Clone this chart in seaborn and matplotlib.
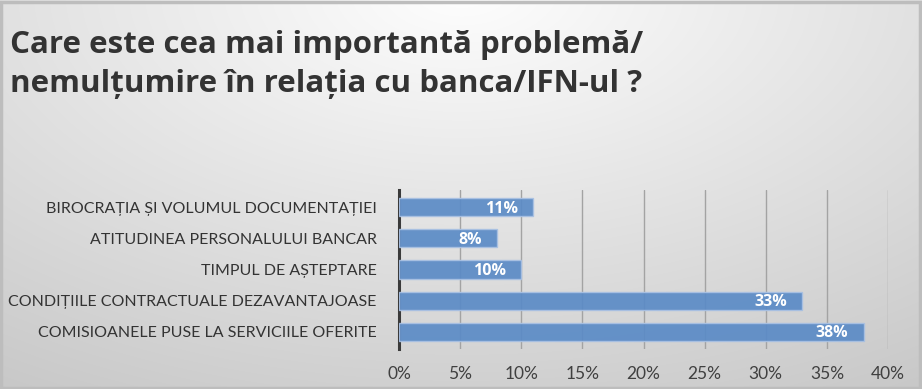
import numpy as np
import matplotlib
matplotlib.use("Agg")
import matplotlib.pyplot as plt
import seaborn as sns
from matplotlib.ticker import FuncFormatter
from matplotlib.patches import Rectangle

categories = [
    "BIROCRAȚIA ȘI VOLUMUL DOCUMENTAȚIEI",
    "ATITUDINEA PERSONALULUI BANCAR",
    "TIMPUL DE AȘTEPTARE",
    "CONDIȚIILE CONTRACTUALE DEZAVANTAJOASE",
    "COMISIOANELE PUSE LA SERVICIILE OFERITE",
]
values = [11, 8, 10, 33, 38]
xticks = [0, 5, 10, 15, 20, 25, 30, 35, 40]
title = "Care este cea mai importantă problemă/\nnemulțumire în relația cu banca/IFN-ul ?"

sns.set_theme(style="white")
plt.rcParams["font.family"] = ["Lato", "DejaVu Sans"]

W, H = 922, 389
fig = plt.figure(figsize=(W / 100, H / 100), dpi=100)

# background gradient
bg = fig.add_axes([0, 0, 1, 1], zorder=-10)
yy, xx = np.mgrid[0:H, 0:W]
dxn = np.abs(xx - 461) / 461.0
dyn = (yy + 10) / 399.0
r = np.sqrt(0.4 * dxn ** 2 + dyn ** 2)
v = np.clip(254 - 46 * r, 0, 255) / 255.0
bg.imshow(np.dstack([v, v, v]), aspect="auto", extent=[0, 1, 0, 1], origin="upper")
bg.set_axis_off()
bg.add_patch(Rectangle((0.001, 0.002), 0.997, 0.994, transform=bg.transAxes,
                       fill=False, edgecolor="#bdbdbd", lw=2.5))

ax = fig.add_axes([399 / W, 1 - 349 / H, (888 - 399) / W, (349 - 190) / H])
ax.patch.set_alpha(0)
sns.barplot(x=values, y=categories, orient="h", color="#5b8bc6", ax=ax,
            width=0.58, saturation=1, alpha=0.92, edgecolor="#a9c1e3", linewidth=1, zorder=3)

for i, val in enumerate(values):
    ax.annotate(f"{val}%", xy=(val, i), xytext=(-11, -1), textcoords="offset points",
                ha="right", va="center", color="white", fontsize=11.5, fontweight="bold",
                family=["Open Sans", "DejaVu Sans"], zorder=5)

ax.set_xlim(0, 40)
ax.set_ylim(4.55, -0.55)
ax.set_xticks(xticks)
ax.xaxis.set_major_formatter(FuncFormatter(lambda x, p: f"{x:.0f}%"))
ax.grid(axis="x", color="#a3a3a3", lw=1, zorder=0)
ax.set_axisbelow(True)
for s in ["top", "right", "bottom"]:
    ax.spines[s].set_visible(False)
ax.spines["left"].set_color("#3a3a3a")
ax.spines["left"].set_linewidth(2.2)
ax.tick_params(axis="x", length=0, pad=12, labelsize=12.5, labelcolor="#404040")
ax.tick_params(axis="y", length=0, pad=16, labelsize=11.5, labelcolor="#333333")
ax.set_xlabel("")
ax.set_ylabel("")

fig.text(10 / W, 1 - 30 / H, title, ha="left", va="top", fontsize=22.5, fontweight="bold",
         color="#333333", linespacing=1.38, family=["Open Sans", "DejaVu Sans"])

fig.savefig("out.png", dpi=100)
